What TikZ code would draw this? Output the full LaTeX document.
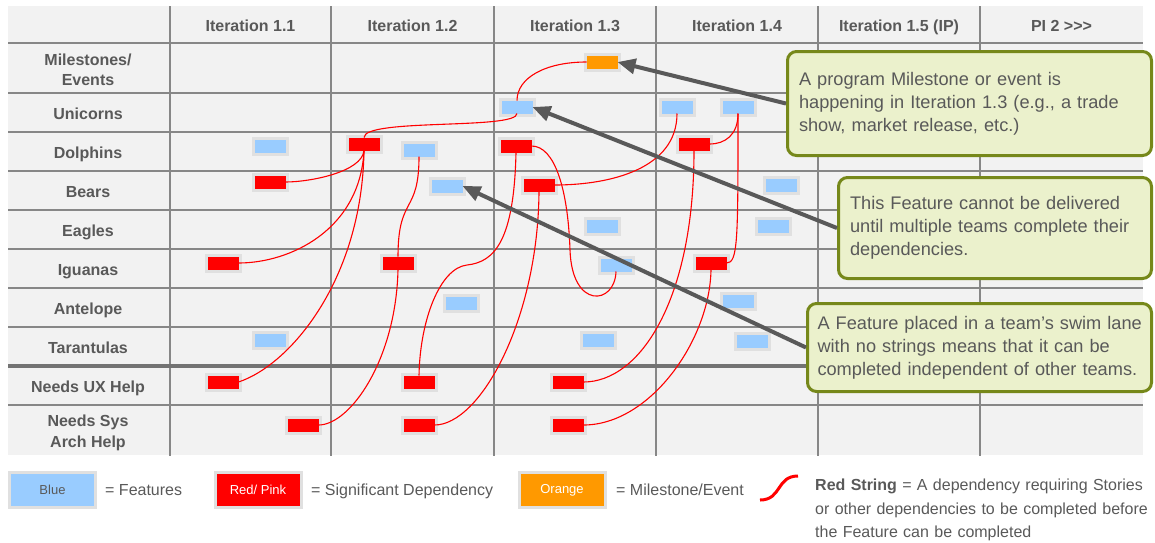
\documentclass[tikz,border=0pt]{standalone}
\usepackage{fontspec}
\setmainfont{Liberation Sans}
\definecolor{lanegray}{RGB}{242,242,242}
\definecolor{gridgray}{RGB}{135,135,135}
\definecolor{inkgray}{RGB}{89,89,89}
\definecolor{halogray}{RGB}{224,224,224}
\definecolor{featblue}{RGB}{153,204,255}
\definecolor{depred}{RGB}{255,0,0}
\definecolor{mileorange}{RGB}{255,153,0}
\definecolor{noteolive}{RGB}{118,136,26}
\definecolor{notefill}{RGB}{235,241,204}
\usetikzlibrary{arrows.meta}

\begin{document}
\begin{tikzpicture}[x=1pt, y=-1pt,
  card/.style={minimum width=31pt, minimum height=13pt, inner sep=0pt, outer sep=0pt, preaction={draw=halogray, line width=6pt}},
  feat/.style={card, fill=featblue},
  dep/.style={card, fill=depred},
  mile/.style={card, fill=mileorange},
  string/.style={depred, line width=1.1pt},
  gridline/.style={gridgray, line width=1.5pt},
  lanelabel/.style={text=inkgray, font=\fontsize{16}{20.5}\selectfont\bfseries, align=center, inner sep=0pt},
  note/.style={draw=noteolive, fill=notefill, line width=3pt, rounded corners=9pt, text=inkgray, font=\fontsize{18.2}{23}\selectfont, align=left},
  pointer/.style={draw=inkgray, line width=4pt, -{Triangle[length=18pt,width=15pt]}},
  keybox/.style={minimum width=83pt, minimum height=32pt, inner sep=0pt, preaction={draw=halogray, line width=6pt}, font=\fontsize{13}{15}\selectfont},
  keytext/.style={text=inkgray, font=\fontsize{16}{19}\selectfont, inner sep=0pt, text height=11.5pt, text depth=3.4pt, anchor=west}]
  \useasboundingbox (0,0) rectangle (1155,542);

  % Swim lane grid
  \fill[lanegray] (8,6) rectangle (1143,455);
  \foreach \yy in {43,93,132,171,210,249,288,327,405}
    \draw[gridline] (8,\yy) -- (1143,\yy);
  \foreach \xx in {170,331,494,656,818,980}
    \draw[gridline] (\xx,6) -- (\xx,456);
  \draw[black!55, line width=4.5pt] (8,366) -- (1143,366);

  % Column heads and lane names
  \foreach \hd/\xc [count=\i] in {Iteration 1.1/250.5, Iteration 1.2/412.5, Iteration 1.3/575, Iteration 1.4/737, Iteration 1.5 (IP)/899, PI 2 >{}>{}>/1061.5}
    \node[lanelabel, anchor=base] (head\i) at (\xc,31) {\hd};
  \node[lanelabel] (laneMile) at (88,70) {Milestones/\\Events};
  \foreach \lane/\yc [count=\i] in {Unicorns/112.5, Dolphins/151.5, Bears/190.5, Eagles/229.5, Iguanas/268.5, Antelope/307.5, Tarantulas/346.5, Needs UX Help/385.5}
    \node[lanelabel, anchor=base] (lane\i) at (88,\yc+6.5) {\lane};
  \node[lanelabel] (laneSys) at (88,433) {Needs Sys\\Arch Help};

  % Milestone
  \node[mile] (mil) at (602,62) {};

  % Features and dependencies, lane by lane
  \node[feat] (uniA) at (517,107) {};
  \node[feat] (uniB) at (677,107) {};
  \node[feat] (uniC) at (738,107) {};

  \node[feat] (dolA) at (270,146) {};
  \node[dep]  (dolB) at (364,144) {};
  \node[feat] (dolC) at (419,150) {};
  \node[dep]  (dolD) at (516,146) {};
  \node[dep]  (dolE) at (694,144) {};

  \node[dep]  (bearA) at (270,182) {};
  \node[feat] (bearB) at (447,186) {};
  \node[dep]  (bearC) at (539,185) {};
  \node[feat] (bearD) at (781,185) {};

  \node[feat] (eagA) at (602,226) {};
  \node[feat] (eagB) at (773,226) {};

  \node[dep]  (iguA) at (223,263) {};
  \node[dep]  (iguB) at (398,263) {};
  \node[feat] (iguC) at (616,265) {};
  \node[dep]  (iguD) at (711,263) {};

  \node[feat] (antA) at (461,303) {};
  \node[feat] (antB) at (738,301) {};

  \node[feat] (tarA) at (270,340) {};
  \node[feat] (tarB) at (598,340) {};
  \node[feat] (tarC) at (752,341) {};

  \node[dep] (uxA) at (223,382) {};
  \node[dep] (uxB) at (419,382) {};
  \node[dep] (uxC) at (568,382) {};

  \node[dep] (sysA) at (303,425) {};
  \node[dep] (sysB) at (419,425) {};
  \node[dep] (sysC) at (568,425) {};

  % Red strings
  \draw[string] (mil.west) .. controls (545,62) and (517,78) .. (uniA.north);
  \draw[string] (uniA.south) .. controls (517,130) and (364,118) .. (dolB.north);
  \draw[string] (dolB.south) .. controls (362,172) and (310,182) .. (bearA.east);
  \draw[string] (dolB.south) .. controls (360,230) and (290,263) .. (iguA.east);
  \draw[string] (dolB.south) .. controls (362,280) and (290,365) .. (uxA.east);
  \draw[string] (dolC.south) .. controls (419,215) and (398,195) .. (iguB.north);
  \draw[string] (iguB.south) .. controls (396,360) and (350,425) .. (sysA.east);
  \draw[string] (dolD.south) .. controls (514,240) and (495,262) .. (467,265)
                             .. controls (440,268) and (420,320) .. (uxB.north);
  \draw[string] (dolD.east) .. controls (555,146) and (568,190) .. (570,250)
                            .. controls (572,310) and (615,305) .. (iguC.south);
  \draw[string] (bearC.south) .. controls (538,320) and (480,425) .. (sysB.east);
  \draw[string] (uniB.south) .. controls (677,169) and (610,185) .. (bearC.east);
  \draw[string] (uniC.south) .. controls (738,135) and (725,144) .. (dolE.east);
  \draw[string] (uniC.south) .. controls (738,240) and (738,263) .. (iguD.east);
  \draw[string] (dolE.south) .. controls (694,300) and (640,382) .. (uxC.east);
  \draw[string] (iguD.south) .. controls (710,340) and (650,425) .. (sysC.east);

  % Call-outs
  \node[note, minimum width=364pt, minimum height=104pt, text width=341pt, inner xsep=11.5pt] (noteMile) at (969.5,103.5)
    {A program Milestone or event is\\happening in Iteration 1.3 (e.g., a trade\\show, market release, etc.)};
  \node[note, minimum width=313pt, minimum height=101pt, text width=290pt, inner xsep=11.5pt] (noteFeat) at (995,228)
    {This Feature cannot be delivered\\until multiple teams complete their\\dependencies.};
  \node[note, minimum width=344pt, minimum height=88pt, text width=334pt, inner xsep=5pt] (noteLane) at (979.5,347.5)
    {\hspace*{5pt}A Feature placed in a team’s swim lane\\\hspace*{5pt}with no strings means that it can be\\\hspace*{5pt}completed independent of other teams.};

  \draw[pointer] (noteMile.west) -- (mil.east);
  \draw[pointer] (noteFeat.west) -- (uniA.east);
  \draw[pointer] (noteLane.west) -- (bearB.east);

  % Key
  \node[keybox, fill=featblue, text=inkgray] (keyBlue) at (52.5,490) {Blue};
  \node[keytext] (keyBlueTxt) at (105,491) {= Features};
  \node[keybox, fill=depred, text=white] (keyRed) at (258,490) {Red/ Pink};
  \node[keytext] (keyRedTxt) at (311,491) {= Significant Dependency};
  \node[keybox, fill=mileorange, text=white] (keyOrange) at (562,490) {Orange};
  \node[keytext] (keyOrangeTxt) at (616,491) {= Milestone/Event};

  \coordinate (keyStrA) at (760,500);
  \coordinate (keyStrB) at (798,476);
  \draw[depred, line width=3pt] (keyStrA) .. controls (782,500) and (776,476) .. (keyStrB);
  \node[text=inkgray, font=\fontsize{16}{23.5}\selectfont, inner sep=0pt, align=left, text width=340pt, anchor=north west] (keyStrTxt) at (815,479)
    {\textbf{Red String} = A dependency requiring Stories\\or other dependencies to be completed before\\the Feature can be completed};
\end{tikzpicture}
\end{document}
